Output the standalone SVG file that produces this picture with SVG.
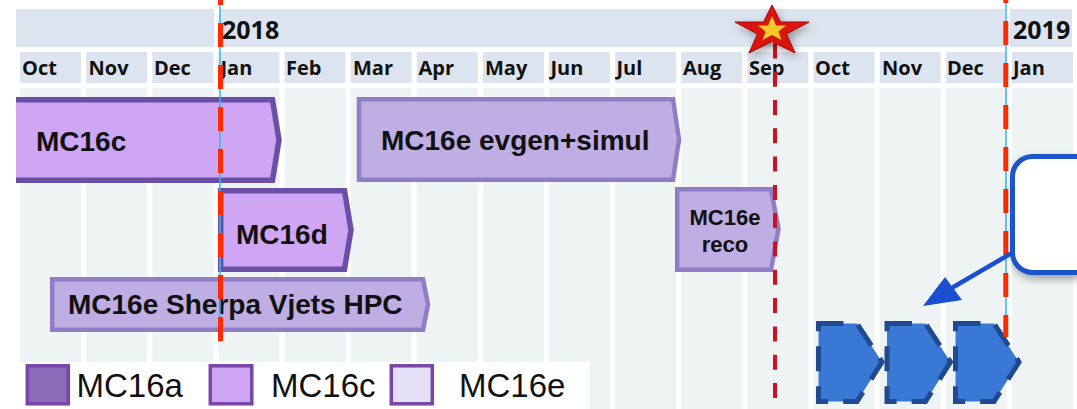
<svg xmlns="http://www.w3.org/2000/svg" width="1077" height="409" viewBox="0 0 1077 409">
<style>
.band{fill:#dce5ef}
.mcell{fill:#dce5ef}
.col{fill:#eef3f4}
.mon{font-family:"Open Sans","DejaVu Sans",sans-serif;font-weight:bold;font-size:20px;fill:#111}
.yr{font-family:"Open Sans","DejaVu Sans",sans-serif;font-weight:bold;font-size:25px;fill:#111}
.barc{fill:#cfa6f4;stroke:#6a4fa6;stroke-width:5.5;stroke-linejoin:miter}
.bare{fill:#bfaee3;stroke:#8f7ec6;stroke-width:4.5;stroke-linejoin:miter}
.lbl{font-family:"Liberation Sans",Arial,sans-serif;font-weight:bold;font-size:28px;fill:#111}
.lbls{font-family:"Liberation Sans",Arial,sans-serif;font-weight:bold;font-size:22px;fill:#111;text-anchor:middle}
.leg{font-family:"Liberation Sans",Arial,sans-serif;font-size:33px;fill:#111}
.legbox{stroke:#7a45a8;stroke-width:3.5}
.cyan{stroke:#3bb4e6;stroke-width:1.5}
.reddash{stroke:#ff2a00;stroke-width:5;stroke-dasharray:24 18}
.sepdash{stroke:#cc1020;stroke-width:4;stroke-dasharray:15 13.3}
.chev{fill:#3a78d6;stroke:#1f4a8f;stroke-width:5;stroke-dasharray:25 15}
</style>
<defs>
<clipPath id="clipL"><rect x="16" y="0" width="1061" height="409"/></clipPath>
<filter id="shadow" x="-30%" y="-30%" width="160%" height="170%">
<feDropShadow dx="2" dy="4" stdDeviation="4" flood-color="#000" flood-opacity="0.35"/>
</filter>
</defs>
<rect x="0" y="0" width="1077" height="409" fill="#ffffff"/>
<g id="header">
<rect class="band" x="16" y="9" width="198" height="38"/>
<rect class="band" x="219" y="9" width="786" height="38"/>
<rect class="band" x="1010" y="9" width="62" height="38"/>
<text class="yr" x="222" y="39">2018</text>
<text class="yr" x="1013" y="39">2019</text>
<g id="months">
<rect class="mcell" x="20" y="52" width="61" height="31"/>
<rect class="mcell" x="86.1" y="52" width="61" height="31"/>
<rect class="mcell" x="152.3" y="52" width="61" height="31"/>
<rect class="mcell" x="218.4" y="52" width="61" height="31"/>
<rect class="mcell" x="284.5" y="52" width="61" height="31"/>
<rect class="mcell" x="350.7" y="52" width="61" height="31"/>
<rect class="mcell" x="416.8" y="52" width="61" height="31"/>
<rect class="mcell" x="482.9" y="52" width="61" height="31"/>
<rect class="mcell" x="549" y="52" width="61" height="31"/>
<rect class="mcell" x="615.2" y="52" width="61" height="31"/>
<rect class="mcell" x="681.3" y="52" width="61" height="31"/>
<rect class="mcell" x="747.4" y="52" width="61" height="31"/>
<rect class="mcell" x="813.6" y="52" width="61" height="31"/>
<rect class="mcell" x="879.7" y="52" width="61" height="31"/>
<rect class="mcell" x="945.8" y="52" width="61" height="31"/>
<rect class="mcell" x="1012" y="52" width="61" height="31"/>
<text class="mon" x="22" y="75">Oct</text>
<text class="mon" x="88.5" y="75">Nov</text>
<text class="mon" x="154" y="75">Dec</text>
<text class="mon" x="220.5" y="75">Jan</text>
<text class="mon" x="286" y="75">Feb</text>
<text class="mon" x="353" y="75">Mar</text>
<text class="mon" x="418.5" y="75">Apr</text>
<text class="mon" x="485" y="75">May</text>
<text class="mon" x="550.5" y="75">Jun</text>
<text class="mon" x="616.5" y="75">Jul</text>
<text class="mon" x="683" y="75">Aug</text>
<text class="mon" x="749" y="75">Sep</text>
<text class="mon" x="815" y="75">Oct</text>
<text class="mon" x="882" y="75">Nov</text>
<text class="mon" x="947" y="75">Dec</text>
<text class="mon" x="1013" y="75">Jan</text>
</g>
</g>
<g id="columns">
<rect class="col" x="20" y="88" width="61" height="321"/>
<rect class="col" x="86.1" y="88" width="61" height="321"/>
<rect class="col" x="152.3" y="88" width="61" height="321"/>
<rect class="col" x="218.4" y="88" width="61" height="321"/>
<rect class="col" x="284.5" y="88" width="61" height="321"/>
<rect class="col" x="350.7" y="88" width="61" height="321"/>
<rect class="col" x="416.8" y="88" width="61" height="321"/>
<rect class="col" x="482.9" y="88" width="61" height="321"/>
<rect class="col" x="549" y="88" width="61" height="321"/>
<rect class="col" x="615.2" y="88" width="61" height="321"/>
<rect class="col" x="681.3" y="88" width="61" height="321"/>
<rect class="col" x="747.4" y="88" width="61" height="321"/>
<rect class="col" x="813.6" y="88" width="61" height="321"/>
<rect class="col" x="879.7" y="88" width="61" height="321"/>
<rect class="col" x="945.8" y="88" width="61" height="321"/>
<rect class="col" x="1012" y="88" width="61" height="321"/>
</g>
<g id="mc16c">
<polygon class="barc" clip-path="url(#clipL)" points="8,99.8 272.5,99.8 279,140 272.5,180.2 8,180.2"/>
<text class="lbl" x="36" y="151">MC16c</text>
</g>
<g id="mc16e-evgen">
<polygon class="bare" points="359,99.3 673,99.3 679,139.5 673,179.7 359,179.7"/>
<text class="lbl" x="381" y="150">MC16e evgen+simul</text>
</g>
<g id="mc16d">
<polygon class="barc" points="220.7,190.7 344.5,190.7 351,230 344.5,269.3 220.7,269.3"/>
<text class="lbl" x="236" y="244">MC16d</text>
</g>
<g id="mc16e-reco">
<polygon class="bare" points="677.2,189.2 771,189.2 778.5,229 771,269.8 677.2,269.8"/>
<text class="lbls" x="725" y="225">MC16e</text>
<text class="lbls" x="725" y="252">reco</text>
</g>
<g id="mc16e-sherpa">
<polygon class="bare" points="52.2,279.2 423,279.2 428,304.5 423,329.8 52.2,329.8"/>
<text class="lbl" x="68" y="314">MC16e Sherpa Vjets HPC</text>
</g>
<g id="future">
<polygon class="chev" points="818.5,323.5 857,323.5 882,362 857,401.5 818.5,401.5"/>
<polygon class="chev" points="887,323.5 925.5,323.5 950.5,362 925.5,401.5 887,401.5"/>
<polygon class="chev" points="955.5,323.5 994,323.5 1019,362 994,401.5 955.5,401.5"/>
</g>
<g id="markers">
<line class="cyan" x1="220" y1="0" x2="220" y2="342"/>
<line class="reddash" x1="220.5" y1="-19" x2="220.5" y2="341"/>
<line class="cyan" x1="1006" y1="0" x2="1006" y2="337"/>
<line class="reddash" x1="1005.8" y1="-21" x2="1005.8" y2="337"/>
<line class="sepdash" x1="775" y1="43.4" x2="775" y2="409"/>
</g>
<g id="star" filter="url(#shadow)">
<polygon points="772,5 780.5,22 809,22 786.5,34 795,53 772,41.5 749,53 757.5,34 735,22 763.5,22" fill="#d9140e" stroke="#b00000" stroke-width="1"/>
<polygon points="772,16 776,25.5 786,25.5 778.5,31.5 781.5,40 772,35 762.5,40 765.5,31.5 758,25.5 768,25.5" fill="#f7c82a"/>
</g>
<g id="callout">
<rect x="1012.5" y="156.5" width="90" height="116" rx="20" ry="20" fill="#ffffff" stroke="#1a55c9" stroke-width="5" filter="url(#shadow)"/>
</g>
<g id="connectors">
<line x1="1010" y1="254" x2="950" y2="289" stroke="#1a4fd0" stroke-width="4.5" stroke-linecap="round"/>
<polygon points="923,306 945,277 962,300" fill="#1a4fd0"/>
</g>
<g id="legend">
<rect x="0" y="362" width="590" height="47" fill="#ffffff"/>
<rect class="legbox" x="27.3" y="365.8" width="41" height="38" fill="#8e6bb8"/>
<text class="leg" x="76.5" y="397">MC16a</text>
<rect class="legbox" x="210.3" y="365.8" width="41.5" height="38" fill="#cfa6f4"/>
<text class="leg" x="271" y="397">MC16c</text>
<rect class="legbox" x="391.3" y="365.8" width="41" height="38" fill="#e5dff8"/>
<text class="leg" x="459" y="397">MC16e</text>
</g>
</svg>
